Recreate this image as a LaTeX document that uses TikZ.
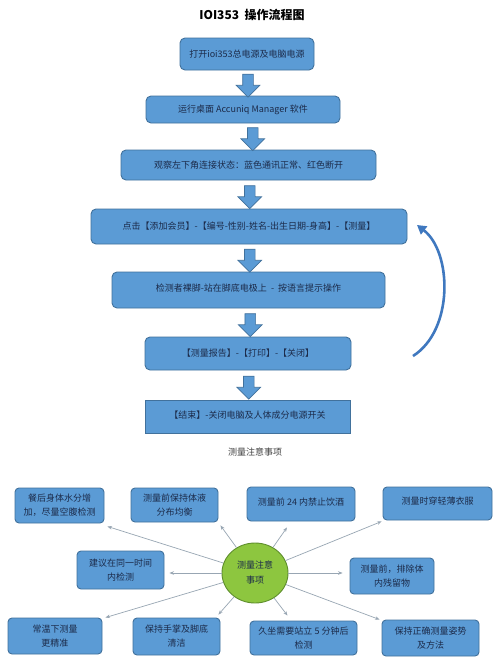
\documentclass[tikz,border=0pt]{standalone}
\usepackage{fontspec}
\setmainfont{Noto Sans CJK SC}
\usetikzlibrary{shapes.geometric,shapes.arrows,arrows.meta,calc}
\definecolor{boxfill}{HTML}{5B9BD5}
\definecolor{boxline}{HTML}{41719C}
\definecolor{boxtext}{HTML}{1C2B4A}
\definecolor{ellfill}{HTML}{8DC63F}
\definecolor{ellline}{HTML}{5E8E2C}
\definecolor{thinline}{HTML}{98A6B3}
\definecolor{loopcol}{HTML}{3F78BF}
\tikzset{
  flowbox/.style={draw=boxline, line width=0.9pt, fill=boxfill, rounded corners=5pt,
    text=boxtext, font=\fontsize{9}{11}\selectfont, inner sep=0pt},
  endbox/.style={flowbox, rounded corners=0pt},
  notebox/.style={draw=boxline, line width=0.9pt, fill=boxfill, rounded corners=4pt,
    text=boxtext, font=\fontsize{9}{14}\selectfont, align=center, inner sep=0pt},
  downarrow/.style={shape=single arrow, draw=boxline, line width=0.7pt, fill=boxfill,
    rotate=-90, inner sep=5pt, minimum height=23pt, single arrow head extend=6.5pt},
  notearrow/.style={draw=thinline, line width=0.7pt, -{Stealth[length=4.5pt,width=3.5pt]}},
  centre/.style={shape=ellipse, draw=ellline, line width=0.9pt, fill=ellfill,
    text=boxtext, font=\fontsize{9}{15}\selectfont, align=center, inner sep=0pt}
}
\begin{document}
\begin{tikzpicture}[x=1pt,y=-1pt]
\useasboundingbox[fill=white] (0,0) rectangle (499,670);

\node[font=\bfseries\fontsize{12}{14}\selectfont, text=black] (title) at (252,15) {IOI353\ \ 操作流程图};

\node[flowbox, minimum width=134pt, minimum height=32pt] (b1) at (247,54) {打开ioi353总电源及电脑电源};
\node[flowbox, minimum width=194pt, minimum height=27pt] (b2) at (243,109.5) {运行桌面 Accuniq Manager 软件};
\node[flowbox, minimum width=255pt, minimum height=30pt] (b3) at (248.5,165) {观察左下角连接状态：蓝色通讯正常、红色断开};
\node[flowbox, minimum width=316pt, minimum height=35pt] (b4) at (249,226.5) {点击【添加会员】-【编号-性别-姓名-出生日期-身高】-【测量】};
\node[flowbox, minimum width=273pt, minimum height=36pt] (b5) at (248.5,290) {\raisebox{5pt}{检测者裸脚-站在脚底电极上 \ - \ 按语言提示操作}};
\node[flowbox, minimum width=206pt, minimum height=33pt] (b6) at (248,353.5) {【测量报告】-【打印】-【关闭】};
\node[endbox, minimum width=205pt, minimum height=33pt] (b7) at (247.5,416.5) {\raisebox{4pt}{【结束】-关闭电脑及人体成分电源开关}};

\node[downarrow] (a1) at ($(b1.south)!0.5!(b2.north)+(3,0)$) {};
\node[downarrow] (a2) at ($(b2.south)!0.5!(b3.north)+(7,0)$) {};
\node[downarrow] (a3) at ($(b3.south)!0.5!(b4.north)+(1,0)$) {};
\node[downarrow] (a4) at ($(b4.south)!0.5!(b5.north)+(1,0)$) {};
\node[downarrow] (a5) at ($(b5.south)!0.5!(b6.north)+(2,0)$) {};
\node[downarrow] (a6) at ($(b6.south)!0.5!(b7.north)+(1,0)$) {};

\coordinate (loopstart) at (413,356);
\coordinate (loopend) at (417,225);
\draw[loopcol, line width=2.6pt, -{Triangle[length=9pt,width=10pt]}]
  (loopstart) .. controls (454,330) and (452,252) .. (loopend);

\node[font=\fontsize{9}{10}\selectfont, text=black!75] (notes) at (255,452) {测量注意事项};

\node[centre, minimum width=66pt, minimum height=60pt] (ell) at (255,573) {测量注意\\事项};

\node[notebox, minimum width=89pt, minimum height=35pt] (A) at (59.5,505.5) {餐后身体水分增\\加，尽量空腹检测};
\node[notebox, minimum width=87pt, minimum height=34pt] (B) at (174.5,505) {测量前保持体液\\分布均衡};
\node[notebox, minimum width=108pt, minimum height=34pt] (C) at (301,504) {\raisebox{5pt}{测量前 24 内禁止饮酒}};
\node[notebox, minimum width=109pt, minimum height=33pt] (D) at (437.5,503.5) {\raisebox{5pt}{测量时穿轻薄衣服}};
\node[notebox, minimum width=87pt, minimum height=38pt] (E) at (120.5,570) {建议在同一时间\\内检测};
\node[notebox, minimum width=84pt, minimum height=36pt] (F) at (392,576) {测量前，排除体\\内残留物};
\node[notebox, minimum width=94pt, minimum height=36pt] (G) at (55,636) {常温下测量\\更精准};
\node[notebox, minimum width=87pt, minimum height=37pt] (H) at (176.5,636.5) {保持手掌及脚底\\清洁};
\node[notebox, minimum width=107pt, minimum height=34pt] (I) at (303.5,638) {久坐需要站立 5 分钟后\\检测};
\node[notebox, minimum width=97pt, minimum height=36pt] (J) at (430.5,638) {保持正确测量姿势\\及方法};

\draw[notearrow] (ell) -- ($(A.south east)+(3,3)$);
\draw[notearrow] (ell) -- ($(B.south east)+(2,3)$);
\draw[notearrow] (ell) -- ($(C.south)+(-14,6)$);
\draw[notearrow] (ell) -- ($(D.south west)+(-1,1)$);
\draw[notearrow] (ell) -- ($(E.east)+(5,3)$);
\draw[notearrow] (ell) -- ($(F.west)+(-7,-3)$);
\draw[notearrow] (ell) -- ($(G.north east)+(3,0)$);
\draw[notearrow] (ell) -- ($(H.north east)+(-2,-3)$);
\draw[notearrow] (ell) -- ($(I.north)+(-16,-5)$);
\draw[notearrow] (ell) -- ($(J.north west)+(-2,0)$);
\end{tikzpicture}
\end{document}
